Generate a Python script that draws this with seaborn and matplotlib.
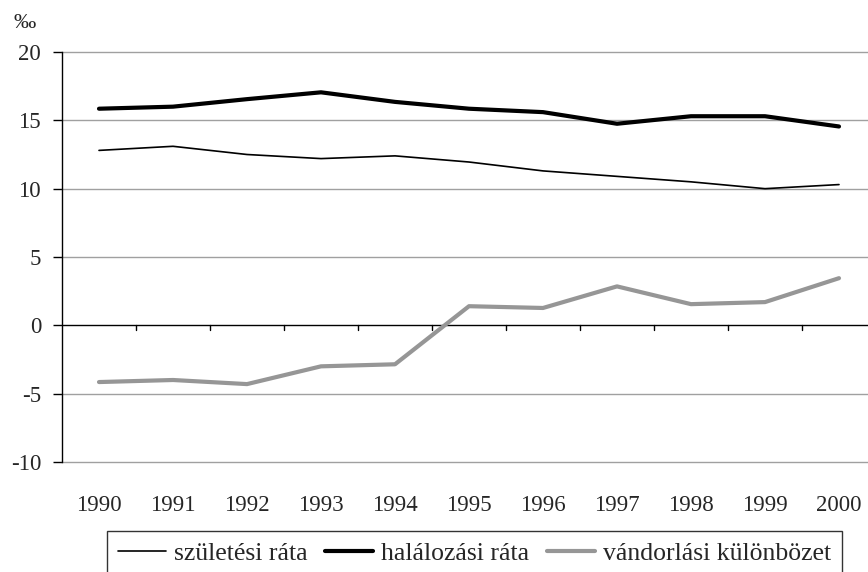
import numpy as np
import pandas as pd
import matplotlib
matplotlib.use("Agg")
import matplotlib.pyplot as plt
import seaborn as sns

# adatok (ezrelék)
years = ['1990', '1991', '1992', '1993', '1994', '1995', '1996', '1997', '1998', '1999', '2000']
szuletesi = [12.8, 13.1, 12.5, 12.2, 12.4, 11.95, 11.3, 10.9, 10.5, 10.0, 10.3]
halalozasi = [15.85, 16.0, 16.55, 17.05, 16.35, 15.85, 15.6, 14.75, 15.3, 15.3, 14.55]
vandorlasi = [-4.15, -4.0, -4.3, -3.0, -2.85, 1.4, 1.27, 2.85, 1.55, 1.7, 3.45]

labels = ['születési ráta', 'halálozási ráta', 'vándorlási különbözet']

df = pd.DataFrame({'ev': np.arange(len(years)),
                   labels[0]: szuletesi,
                   labels[1]: halalozasi,
                   labels[2]: vandorlasi})

sns.set_style("white")
plt.rcParams['font.family'] = ['Liberation Serif', 'DejaVu Serif']
fs = 16.5

fig = plt.figure(figsize=(8.68, 5.72), dpi=100)
ax = fig.add_axes([62 / 868, 1 - 462 / 572, 814 / 868, 410 / 572])

# rácsvonalak
for v in [-10, -5, 5, 10, 15, 20]:
    ax.axhline(v, color='#a0a0a0', lw=1.0, zorder=1, clip_on=False)
ax.axhline(0, color='black', lw=1.0, zorder=2)

styles = [('black', 1.2), ('black', 3.0), ('#969696', 3.0)]
for name, (c, w) in zip(labels, styles):
    sns.lineplot(data=df, x='ev', y=name, ax=ax, color=c, lw=w, label=name, zorder=3)

ax.set_xlim(-0.5, 10.5)
ax.set_ylim(-10, 20)
ax.set_yticks(range(-10, 21, 5))
ax.set_yticklabels([str(v) for v in range(-10, 21, 5)], fontsize=fs)
ax.set_xticks(np.arange(len(years)))
ax.set_xticklabels(years, fontsize=fs)
ax.tick_params(axis='x', length=0, pad=23.5)
ax.tick_params(axis='y', length=6.5, width=1, color='black', direction='out', left=True, pad=8.5)
ax.set_xlabel('')
ax.set_ylabel('')
for s in ['top', 'right', 'bottom']:
    ax.spines[s].set_visible(False)
ax.spines['left'].set_color('black')
ax.spines['left'].set_linewidth(1.0)

# x tengely osztásjelei a 0 vonalon
for b in np.arange(0.5, 10.5, 1.0):
    ax.plot([b, b], [0, -0.37], color='black', lw=1.0, zorder=2, clip_on=False)

fig.text(13 / 868, 1 - 23 / 572, '‰', fontsize=16, va='center', ha='left')

ax.get_legend().remove()
leg = fig.legend(loc='upper left', bbox_to_anchor=(107 / 868, 1 - 531 / 572),
                 ncol=3, fontsize=18.5, frameon=True, fancybox=False,
                 edgecolor='black', handlelength=1.87, handletextpad=0.3,
                 columnspacing=0.7, borderpad=0.43, borderaxespad=0)
leg.get_frame().set_linewidth(1.0)

fig.savefig('out.png', dpi=100)
